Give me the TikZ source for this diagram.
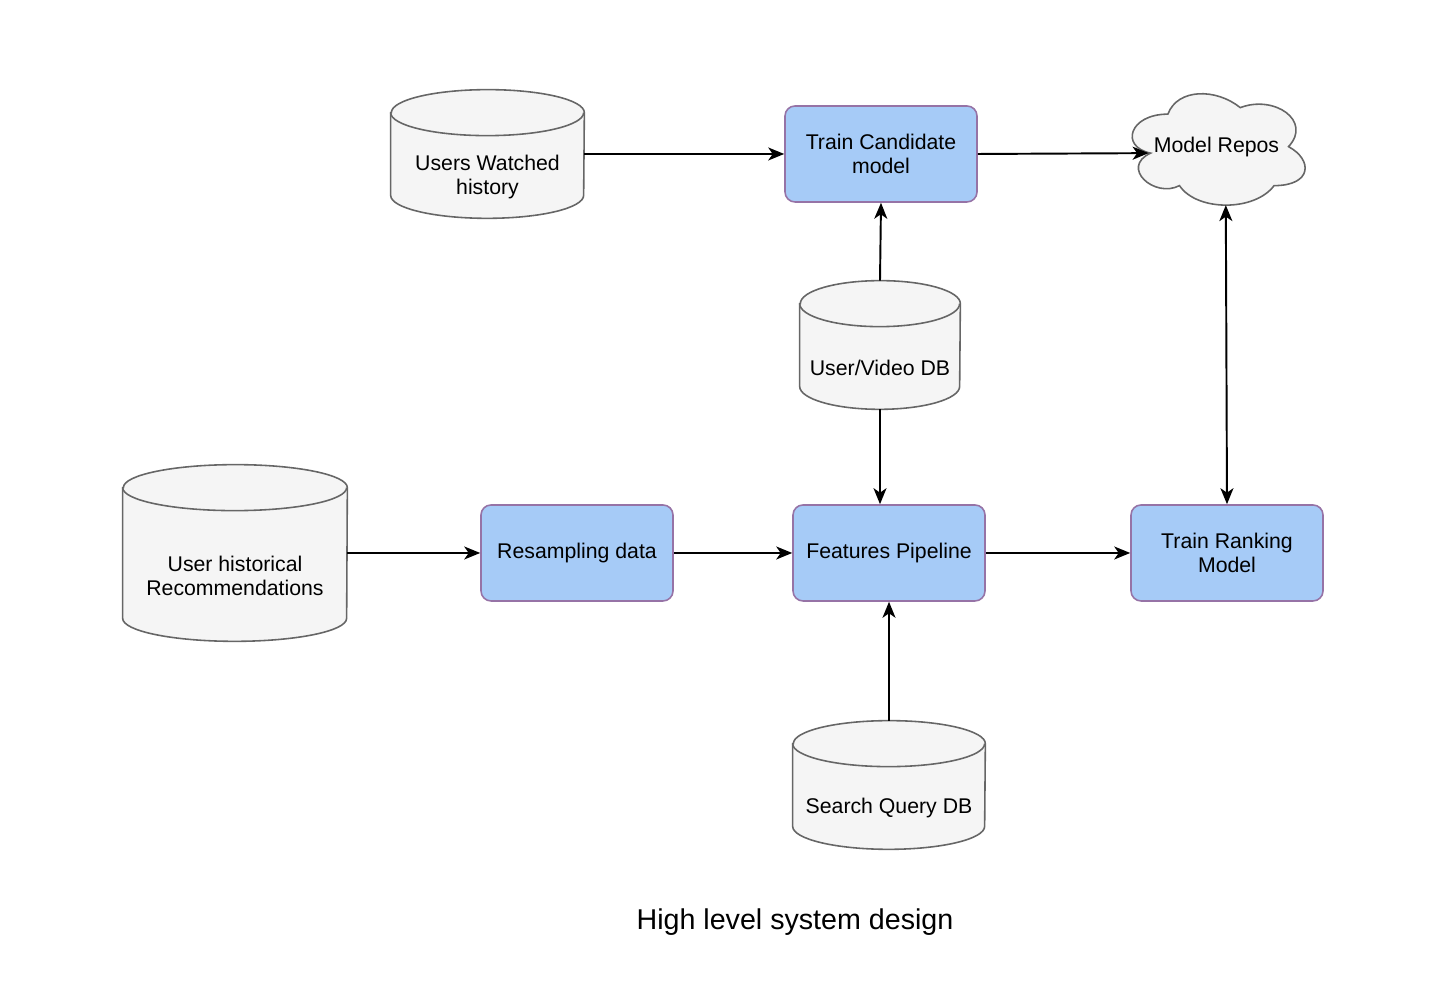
\documentclass[tikz,border=0pt]{standalone}
\usepackage{fontspec}
\setmainfont{Liberation Sans}
\usetikzlibrary{arrows.meta,calc,positioning,backgrounds}
\definecolor{boxfill}{RGB}{166,203,247}
\definecolor{boxline}{RGB}{150,115,166}
\definecolor{dbfill}{RGB}{245,245,245}
\definecolor{dbline}{RGB}{102,102,102}
\tikzset{
    block/.style = {draw=boxline, fill=boxfill, rectangle, rounded corners=0.2cm,
        line width=0.9pt, minimum height=1.92cm, minimum width=3.84cm, align=center},
    db/.style = {rectangle, minimum height=2.56cm, inner sep=0pt},
    dbtext/.style = {align=center},
    dbedge/.style = {draw=dbline, line width=0.9pt},
    arrow/.style = {draw, line width=1.1pt, ->}
}
\def\dbry{0.46cm}

\begin{document}
\begin{tikzpicture}[>={Stealth[length=3.2mm,width=2.6mm,inset=0.9mm]},
    every node/.style={font=\fontsize{12.1}{13.7}\selectfont}]
    \useasboundingbox (0,0) rectangle (29,19.64);
    % bottom row
    \node [db, minimum width=4.48cm, minimum height=3.52cm] (uhr) at (4.7,8.58) {};
    \node [block, right of=uhr, node distance=6.84cm] (rsd) {Resampling data};
    \node [block, right of=rsd, node distance=6.24cm] (fpl) {Features Pipeline};
    \node [block, right of=fpl, node distance=6.76cm] (trm) {Train Ranking\\Model};
    \node [db, minimum width=3.84cm, below of=fpl, node distance=4.64cm] (sqdb) {};
    % upper part
    \node [db, minimum width=3.2cm, above of=fpl, node distance=4.16cm, xshift=-0.18cm] (uvdb) {};
    \node [block, above of=uvdb, node distance=3.84cm, xshift=0.02cm, yshift=-0.02cm] (tcm) {Train Candidate\\model};
    \node [db, minimum width=3.86cm, left of=tcm, node distance=7.87cm] (uwh) {};
    \node [rectangle, minimum width=3.86cm, minimum height=2.6cm, right of=tcm,
        node distance=6.71cm, yshift=0.14cm] (repo) {Model Repos};
    % cylinders
    \foreach \n/\r in {uwh/1.93, uvdb/1.6, uhr/2.24, sqdb/1.92}{
        \draw [dbedge, fill=dbfill] ([yshift=-\dbry]\n.north west) -- ([yshift=\dbry]\n.south west)
            arc (180:360:\r cm and \dbry) -- ([yshift=-\dbry]\n.north east)
            arc (0:180:\r cm and \dbry) -- cycle;
        \draw [dbedge] ([yshift=-\dbry]\n.north west) arc (180:360:\r cm and \dbry);
    }
    \node [dbtext] (uwhlbl) at ([yshift=-\dbry]uwh.center) {Users Watched\\history};
    \node [dbtext] (uvdblbl) at ([yshift=-\dbry]uvdb.center) {User/Video DB};
    \node [dbtext] (uhrlbl) at ([yshift=-\dbry]uhr.center) {User historical\\Recommendations};
    \node [dbtext] (sqdblbl) at ([yshift=-\dbry]sqdb.center) {Search Query DB};
    % cloud
    \begin{scope}[on background layer, shift={(repo.north west)}, x=3.86cm, y={(0,-2.6cm)}]
        \draw [dbedge, fill=dbfill] (0.25,0.25) .. controls (0.05,0.25) and (0,0.5) .. (0.16,0.55)
            .. controls (0,0.66) and (0.18,0.9) .. (0.31,0.8)
            .. controls (0.4,1) and (0.7,1) .. (0.8,0.8)
            .. controls (1,0.8) and (1,0.6) .. (0.875,0.5)
            .. controls (1,0.3) and (0.8,0.1) .. (0.625,0.2)
            .. controls (0.5,0.05) and (0.3,0.05) .. (0.25,0.25) -- cycle;
        \coordinate (repoW) at (0.15,0.55);
        \coordinate (repoS) at (0.55,0.95);
    \end{scope}
    % connectors
    \draw [arrow] (uwh.east) -- (tcm.west);
    \draw [arrow] (tcm.east) -- (repoW);
    \draw [arrow] (uvdb.north) -- (tcm.south);
    \draw [arrow] (uvdb.south) -- (uvdb.south |- fpl.north);
    \draw [arrow] (uhr.east) -- (rsd.west);
    \draw [arrow] (rsd.east) -- (fpl.west);
    \draw [arrow] (fpl.east) -- (trm.west);
    \draw [arrow] (sqdb.north) -- (fpl.south);
    \draw [arrow, <->] (repoS) -- (trm.north);
    \node [font=\fontsize{16.3}{19}\selectfont] (title) at (15.9,1.2) {High level system design};
\end{tikzpicture}
\end{document}
